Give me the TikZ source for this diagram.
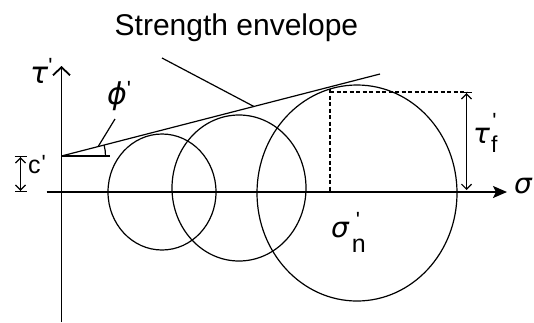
\documentclass[tikz,border=0pt]{standalone}
\usepackage{fontspec}
\setmainfont{Liberation Sans}
\newfontfamily\gr{DejaVu Sans}
\usetikzlibrary{arrows.meta,calc,shapes.geometric}
\newcommand{\pr}{\textquotesingle}
\newcommand{\grk}[2]{{\fontsize{#1}{#1}\selectfont\gr\itshape #2}}
\begin{document}
\begin{tikzpicture}[x=1pt,y=-1pt,
  axisline/.style={line width=1.8pt},
  thinline/.style={line width=1.2pt},
  dashline/.style={line width=1.2pt,dash pattern=on 4pt off 2.5pt},
  mohr/.style={draw,ellipse,line width=1.2pt,inner sep=0pt},
  lbl/.style={inner sep=0pt,anchor=base west}]
\useasboundingbox (0,0) rectangle (534,322);
% axes
\coordinate (O) at (61.5,192);
\coordinate (ytop) at (61.5,66);
\coordinate (ybot) at (61.5,322);
\coordinate (xl) at (46.5,192);
\coordinate (xtip) at (507,192);
\draw[axisline,-{Straight Barb[length=8pt,width=17pt]}] (ybot) -- (ytop);
\draw[axisline,-{Stealth[length=14pt,width=12pt,inset=3pt]}] (xl) -- (xtip);
% Mohr circles
\node[mohr,minimum width=108pt,minimum height=116pt] (m1) at (162,192) {};
\node[mohr,minimum width=134pt,minimum height=146pt] (m2) at (239,188) {};
\node[mohr,minimum width=200pt,minimum height=216pt] (m3) at (357,193) {};
% envelope
\coordinate (c) at (61.5,156);
\coordinate (E) at (380,74);
\draw[thinline] (c) -- (E);
\coordinate (h) at (110,156);
\draw[thinline] (c) -- (h);
\coordinate (a0) at (105.5,156);
\draw[thinline] (a0) arc[start angle=0,end angle=-14.4,radius=44];
% tangent point dashed
\coordinate (T) at (330,89);
\coordinate (Tb) at (330,192);
\coordinate (Th) at (330,92);
\coordinate (ft) at (466.5,92);
\coordinate (fb) at (466.5,190);
\draw[dashline] (T) -- (Tb);
\draw[dashline] (Th) -- (ft);
\draw[thinline,{Bar[width=11pt]Straight Barb[length=5pt,width=10pt]}-{Straight Barb[length=5pt,width=10pt]}] (ft) -- (fb);
% c' arrow
\coordinate (ct) at (20.5,156);
\coordinate (cb) at (20.5,192);
\draw[thinline,{Bar[width=12pt]Straight Barb[length=5pt,width=10pt]}-{Straight Barb[length=5pt,width=10pt]Bar[width=12pt]}] (ct) -- (cb);
% leaders
\coordinate (sl) at (162,58);
\coordinate (se) at ($(c)!0.604!(E)$);
\draw[thinline] (sl) -- (se);
\coordinate (pl) at (115,119);
\coordinate (pe) at ($(c)!0.115!(E)$);
\draw[thinline] (pl) -- (pe);
% labels
\node[lbl] (title) at (114.5,35) {\fontsize{30}{36}\selectfont Strength envelope};
\node[lbl] (tau) at (30,83) {\grk{30}{τ}\kern0pt\raisebox{10pt}{\fontsize{22}{24}\selectfont\pr}};
\node[lbl] (phi) at (107,104) {\grk{30}{ϕ}\kern0pt\raisebox{8pt}{\fontsize{22}{24}\selectfont\pr}};
\node[lbl] (cl) at (28,173) {\fontsize{25}{30}\selectfont c\kern1pt\raisebox{3pt}{\fontsize{22}{24}\selectfont\pr}};
\node[lbl] (sig) at (514,193) {\grk{28}{σ}};
\node[lbl] (tauf) at (473,143) {\grk{28}{τ}\kern1pt\raisebox{-9pt}{\fontsize{23}{26}\selectfont f}\kern-5pt\raisebox{15pt}{\fontsize{22}{24}\selectfont\pr}};
\node[lbl] (sign) at (331,237) {\grk{28}{σ}\kern3pt\raisebox{-15pt}{\fontsize{25}{30}\selectfont n}\kern-10pt\raisebox{10pt}{\fontsize{22}{24}\selectfont\pr}};
\end{tikzpicture}
\end{document}
